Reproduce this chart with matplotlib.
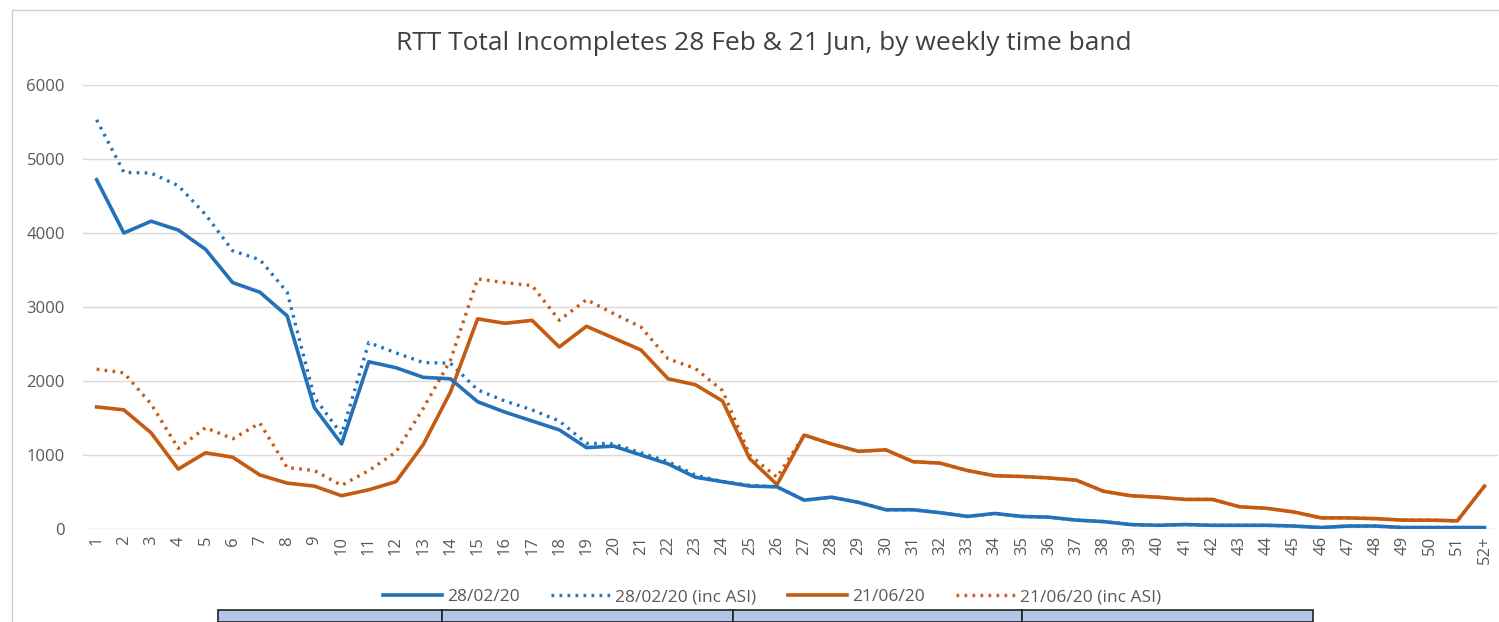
import matplotlib.pyplot as plt
from matplotlib.patches import Rectangle
from matplotlib.lines import Line2D

# weekly time bands
weeks = [str(i) for i in range(1, 52)] + ["52+"]

feb_total = [4720, 4000, 4160, 4040, 3780, 3330, 3200, 2880, 1640, 1150,
             2260, 2180, 2050, 2030, 1720, 1580, 1460, 1340, 1100, 1120,
             1000, 880, 700, 640, 580, 570, 390, 430, 360, 260,
             260, 220, 170, 210, 170, 160, 120, 100, 60, 50,
             60, 50, 50, 50, 40, 20, 40, 40, 20, 20,
             20, 20]
feb_asi = [5530, 4820, 4810, 4640, 4250, 3760, 3640, 3200, 1780, 1280,
           2520, 2380, 2250, 2240, 1880, 1730, 1610, 1460, 1160, 1150,
           1030, 910, 730, 640, 590, 570, 390, 430, 360, 260,
           260, 220, 170, 210, 170, 160, 120, 100, 60, 50,
           60, 50, 50, 50, 40, 20, 40, 40, 20, 20,
           20, 20]
jun_total = [1650, 1610, 1300, 810, 1030, 970, 730, 620, 580, 450,
             530, 640, 1140, 1850, 2840, 2780, 2820, 2460, 2740, 2580,
             2420, 2030, 1950, 1730, 950, 600, 1270, 1150, 1050, 1070,
             910, 890, 790, 720, 710, 690, 660, 510, 450, 430,
             400, 400, 300, 280, 230, 150, 150, 140, 120, 120,
             110, 580]
jun_asi = [2160, 2110, 1690, 1090, 1370, 1220, 1430, 830, 790, 590,
           790, 1040, 1630, 2280, 3380, 3330, 3290, 2820, 3100, 2910,
           2730, 2300, 2170, 1870, 1000, 700, 1270, 1150, 1050, 1070,
           910, 890, 790, 720, 710, 690, 660, 510, 450, 430,
           400, 400, 300, 280, 230, 150, 150, 140, 120, 120,
           110, 580]

BLUE = "#2372b9"
ORANGE = "#c55a11"

plt.rcParams['font.family'] = ['Open Sans', 'DejaVu Sans']

fig = plt.figure(figsize=(14.99, 6.22), dpi=100)

# chart frame (screenshot edge)
fig.add_artist(Line2D([0.008, 0.008], [0.0, 0.984], color="#d0d0d0", lw=1))
fig.add_artist(Line2D([0.008, 1.0], [0.984, 0.984], color="#d0d0d0", lw=1))

ax = fig.add_axes([0.0554, 0.1495, 0.944, 0.7138])
ax.plot(weeks, jun_asi, color=ORANGE, lw=2.4, ls=(0, (0.8, 1.6)),
        label="21/06/20 (inc ASI)", zorder=3)
ax.plot(weeks, feb_asi, color=BLUE, lw=2.4, ls=(0, (0.8, 1.6)),
        label="28/02/20 (inc ASI)", zorder=3)
ax.plot(weeks, jun_total, color=ORANGE, lw=2.6, label="21/06/20", zorder=4)
ax.plot(weeks, feb_total, color=BLUE, lw=2.6, label="28/02/20", zorder=5)

ax.set_xlim(-0.5, len(weeks) - 0.5)
ax.set_ylim(0, 6000)
ax.set_yticks(range(0, 6001, 1000))
ax.grid(axis="y", color="#d9d9d9", lw=1)
ax.set_axisbelow(True)
for s in ax.spines.values():
    s.set_visible(False)
ax.tick_params(axis="both", length=0, colors="#595959", labelsize=12)
ax.tick_params(axis="x", labelrotation=90, pad=5)
ax.tick_params(axis="y", pad=13)

fig.text(764 / 1499, 1 - 43 / 622,
         "RTT Total Incompletes 28 Feb & 21 Jun, by weekly time band",
         fontsize=19, color="#404040", ha="center", va="center")

handles, labels = ax.get_legend_handles_labels()
order = [3, 1, 2, 0]
fig.legend([handles[i] for i in order], [labels[i] for i in order],
           loc="center", bbox_to_anchor=(772 / 1499, 1 - 597 / 622), ncol=4,
           frameon=False, fontsize=12.5, labelcolor="#595959",
           handlelength=3.4, handletextpad=0.3, columnspacing=1.8)

# table cells under the chart
cell_edges = [218, 442, 733, 1022, 1313]
for i in range(len(cell_edges) - 1):
    x0 = cell_edges[i] / 1499
    w = (cell_edges[i + 1] - cell_edges[i]) / 1499
    fig.add_artist(Rectangle((x0, 0.0), w, 12 / 622, facecolor="#b4c6e7",
                             edgecolor="#222222", lw=1.2))

fig.savefig("out.png", dpi=100)
